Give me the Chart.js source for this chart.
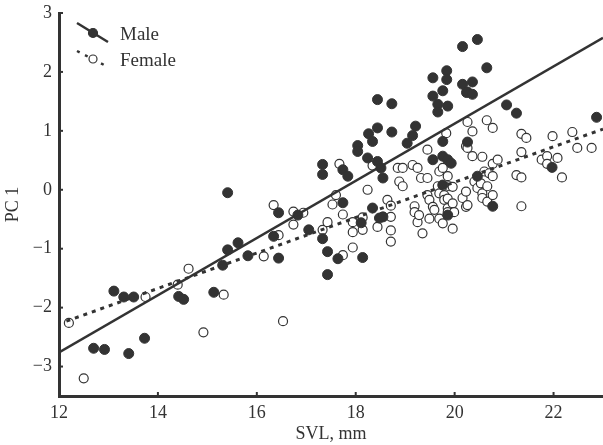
<!DOCTYPE html>
<html>
<head>
<meta charset="utf-8">
<script src="https://cdn.jsdelivr.net/npm/chart.js@4.4.0/dist/chart.umd.min.js"></script>
<style>
  body { margin: 0; background: #fff; }
  #box { width: 603px; height: 445px; }
</style>
</head>
<body>
<div id="box"><canvas id="grafico" width="603" height="445"></canvas></div>
<script>
// male (filled) points, SVL vs PC1
const maleX = [12.70, 12.92, 13.11, 13.31, 13.51, 13.41, 13.73, 14.42, 14.52,
  15.13, 15.31, 15.41, 15.62, 15.41, 15.82, 16.34, 16.44, 16.44, 16.83, 17.05, 17.33, 17.43, 17.43, 17.33, 17.33, 17.64, 18.14,
  17.74, 17.84, 17.74, 18.04, 18.04, 18.24, 18.26, 18.34, 18.34, 18.44, 18.44, 18.44, 18.51, 18.55, 18.48, 18.55, 18.11, 18.73, 18.73,
  19.04, 19.15, 19.21, 19.56, 19.56, 19.56, 19.66, 19.66, 19.76, 19.76, 19.76, 19.76, 19.84, 19.84, 19.86, 19.86, 19.93, 19.86,
  20.16, 20.16, 20.24, 20.26, 20.36, 20.36, 20.46, 20.65, 20.26, 20.46, 20.77, 21.05, 21.25, 21.97, 22.87];
const maleY = [-2.69, -2.71, -1.72, -1.82, -1.82, -2.78, -2.52, -1.81, -1.86,
  -1.74, -1.28, -1.02, -0.90, -0.05, -1.12, -0.79, -0.39, -1.16, -0.43, -0.68, -0.83, -1.05, -1.44, 0.43, 0.26, -1.17, -1.15,
  0.34, 0.23, -0.22, 0.75, 0.65, 0.54, 0.95, 0.82, -0.31, 0.48, 1.05, 1.53, 0.37, 0.20, -0.48, -0.46, -0.56, 1.46, 0.98,
  0.79, 0.92, 1.08, 1.90, 1.59, 0.51, 1.45, 1.32, 1.68, 0.82, 0.57, 0.08, 2.02, 1.87, 1.42, 0.51, 0.45, -0.43,
  2.43, 1.79, 1.65, 1.66, 1.62, 1.83, 2.55, 2.07, 0.81, 0.23, -0.28, 1.44, 1.30, 0.38, 1.23];

// female (open) points
const femaleX = [12.20, 12.50, 13.75, 14.40, 14.62, 14.92, 15.33, 16.14, 16.34, 16.44, 16.53, 16.74, 16.74, 16.94,
  17.33, 17.43, 17.53, 17.60, 17.67, 17.74, 17.94, 17.94, 17.94, 17.74, 18.14, 18.14, 18.24, 18.34, 18.44,
  18.64, 18.71, 18.71, 18.71, 18.71, 18.85, 18.95, 18.88, 18.95, 19.15, 19.25, 19.19, 19.19, 19.25, 19.28,
  19.32, 19.45, 19.45, 19.45, 19.49, 19.49, 19.35, 19.56, 19.59, 19.66, 19.69, 19.69, 19.69, 19.76, 19.76,
  19.79, 19.79, 19.83, 19.86, 19.86, 19.86, 19.86, 19.89, 19.96, 19.96, 19.96, 19.99, 20.16, 20.23, 20.23,
  20.23, 20.26, 20.26, 20.26, 20.36, 20.36, 20.40, 20.46, 20.53, 20.56, 20.56, 20.56, 20.60, 20.65, 20.66,
  20.66, 20.70, 20.77, 20.77, 20.77, 20.77, 20.87, 21.25, 21.35, 21.35, 21.35, 21.35, 21.45, 21.76, 21.87,
  21.87, 21.98, 22.08, 22.17, 22.38, 22.48, 22.77];
const femaleY = [-2.26, -3.20, -1.82, -1.61, -1.34, -2.42, -1.78, -1.13, -0.26, -0.77, -2.23, -0.37, -0.59, -0.39,
  -0.68, -0.55, -0.25, -0.09, 0.44, -0.42, -0.55, -0.72, -0.98, -1.11, -0.47, -0.68, 0.00, 0.41, -0.63,
  -0.17, -0.27, -0.46, -0.69, -0.88, 0.37, 0.37, 0.14, 0.06, 0.42, 0.37, -0.28, -0.38, -0.55, -0.43,
  0.20, 0.20, 0.68, -0.09, -0.17, -0.49, -0.74, -0.29, -0.34, 0.06, 0.31, -0.06, -0.49, 0.37, -0.57,
  -0.09, -0.17, 0.96, 0.23, -0.15, -0.31, -0.38, 0.06, 0.05, -0.23, -0.66, -0.38, -0.14, 0.74, -0.03,
  -0.29, 1.15, 0.71, -0.26, 0.99, 0.57, 0.14, 0.03, 0.11, 0.56, -0.06, -0.14, 0.31, 1.18, 0.06,
  -0.20, 0.28, 1.05, 0.44, 0.23, -0.09, 0.51, 0.25, 0.95, 0.64, 0.21, -0.28, 0.88, 0.51, 0.57,
  0.44, 0.91, 0.54, 0.21, 0.98, 0.71, 0.71];

// regression line end points
const maleFitX = [12, 23];
const maleFitY = [-2.76, 2.58];
const femaleFitX = [12.15, 23];
const femaleFitY = [-2.23, 1.03];

const xTicks = [12, 14, 16, 18, 20, 22];
const yTicks = [-3, -2, -1, 0, 1, 2, 3];
const legendLabels = ["Male", "Female"];

const dark = "#333333";
const serif = "'Liberation Serif', 'Times New Roman', serif";

function pares(xs, ys) {
  return xs.map((x, i) => ({ x: x, y: ys[i] }));
}

// small inward tick marks plus the diagonal legend
const extras = {
  id: "extras",
  afterDraw(chart) {
    const ctx = chart.ctx;
    const sx = chart.scales.x, sy = chart.scales.y;
    const area = chart.chartArea;
    ctx.save();
    ctx.strokeStyle = dark;
    ctx.lineWidth = 2;
    xTicks.forEach((v) => {
      const px = sx.getPixelForValue(v);
      ctx.beginPath();
      ctx.moveTo(px, area.bottom);
      ctx.lineTo(px, area.bottom - 4);
      ctx.stroke();
    });
    yTicks.forEach((v) => {
      const py = sy.getPixelForValue(v);
      ctx.beginPath();
      ctx.moveTo(area.left, py);
      ctx.lineTo(area.left + 4, py);
      ctx.stroke();
    });

    // legend
    const rows = [
      { y0: 23, y1: 42, my: 33, dash: [], filled: true },
      { y0: 51, y1: 67, my: 59, dash: [3, 6], filled: false }
    ];
    rows.forEach((r, i) => {
      ctx.setLineDash(r.dash);
      ctx.lineWidth = 2.5;
      ctx.strokeStyle = dark;
      ctx.beginPath();
      ctx.moveTo(77, r.y0);
      ctx.lineTo(108, r.y1);
      ctx.stroke();
      ctx.setLineDash([]);
      ctx.beginPath();
      ctx.arc(93, r.my, r.filled ? 4.5 : 4, 0, Math.PI * 2);
      ctx.fillStyle = r.filled ? dark : "#fff";
      ctx.fill();
      ctx.lineWidth = 1.2;
      ctx.stroke();
      ctx.fillStyle = dark;
      ctx.font = "19px " + serif;
      ctx.textBaseline = "middle";
      ctx.fillText(legendLabels[i], 120, r.my + 2);
    });
    ctx.restore();
  }
};

new Chart(document.getElementById("grafico").getContext("2d"), {
  type: "scatter",
  data: {
    datasets: [
      {
        label: "Male fit",
        type: "line",
        data: pares(maleFitX, maleFitY),
        borderColor: dark,
        borderWidth: 2.5,
        pointRadius: 0,
        fill: false,
        order: 1
      },
      {
        label: "Female fit",
        type: "line",
        data: pares(femaleFitX, femaleFitY),
        borderColor: dark,
        borderWidth: 3,
        borderDash: [4, 5],
        pointRadius: 0,
        fill: false,
        order: 1
      },
      {
        label: "Male",
        data: pares(maleX, maleY),
        backgroundColor: dark,
        borderColor: dark,
        borderWidth: 1,
        pointRadius: 5,
        order: 2
      },
      {
        label: "Female",
        data: pares(femaleX, femaleY),
        backgroundColor: "#fff",
        borderColor: dark,
        borderWidth: 1.2,
        pointRadius: 4.5,
        order: 3
      }
    ]
  },
  options: {
    responsive: false,
    animation: false,
    layout: { autoPadding: false, padding: { top: 13, right: 0, left: 0, bottom: 0 } },
    plugins: { legend: { display: false }, tooltip: { enabled: false } },
    scales: {
      x: {
        type: "linear",
        min: 12,
        max: 23,
        afterFit(scale) {
          scale.height = 49;
          scale.paddingRight = 0;
          scale.paddingLeft = 0;
        },
        grid: { display: false, drawTicks: false },
        border: { display: true, color: dark, width: 3 },
        ticks: {
          stepSize: 2,
          includeBounds: false,
          padding: 6,
          color: dark,
          font: { family: serif, size: 18 }
        },
        title: {
          display: true,
          text: "SVL, mm",
          color: dark,
          padding: { top: 0, bottom: 0 },
          font: { family: serif, size: 18 }
        }
      },
      y: {
        min: -3.5,
        max: 3,
        afterFit(scale) {
          scale.width = 59;
          scale.paddingTop = 0;
          scale.paddingBottom = 0;
        },
        grid: { display: false, drawTicks: false },
        border: { display: true, color: dark, width: 3 },
        ticks: {
          stepSize: 1,
          includeBounds: false,
          padding: 7,
          color: dark,
          font: { family: serif, size: 18 },
          callback: (v) => (v < 0 ? "\u2212" + Math.abs(v) : String(v))
        },
        title: {
          display: true,
          text: "PC 1",
          color: dark,
          padding: { top: 2, bottom: 0 },
          font: { family: serif, size: 18 }
        }
      }
    }
  },
  plugins: [extras]
});
</script>
</body>
</html>
